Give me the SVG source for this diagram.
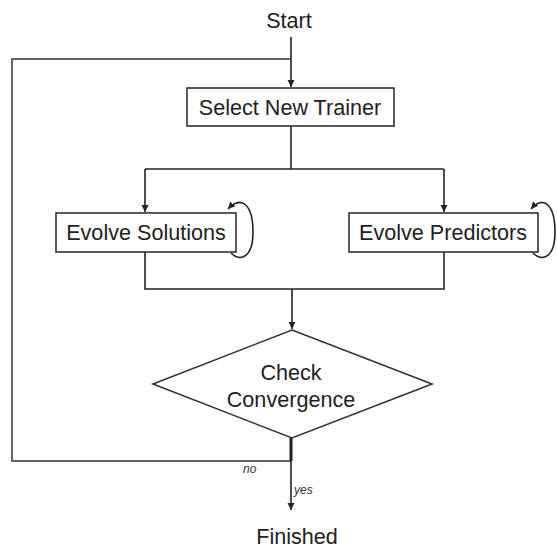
<svg xmlns="http://www.w3.org/2000/svg" width="557" height="548" viewBox="0 0 557 548">
<style>
.t{font-family:"Liberation Sans",Arial,sans-serif;font-size:21.6px;fill:#222;text-anchor:middle}
.s{font-family:"Liberation Sans",Arial,sans-serif;font-size:12px;font-style:italic;fill:#333}
.b{fill:#fff;stroke:#333;stroke-width:1.6}
.c{fill:none;stroke:#222;stroke-width:1.6}
.g{fill:none;stroke:#666;stroke-width:2}
</style>
<defs>
<marker id="a" markerWidth="8" markerHeight="8" refX="7" refY="4" orient="auto" markerUnits="userSpaceOnUse">
<path d="M0,0.5 L7,4 L0,7.5 Z" fill="#222"/>
</marker>
</defs>
<rect width="557" height="548" fill="#fff"/>
<g id="connectors">
<path class="g" d="M291 461 H12 V59 H291"/>
<path class="c" d="M291 37 V87" marker-end="url(#a)"/>
<path class="c" d="M291 126 V169"/>
<path class="c" d="M145 169 H444"/>
<path class="c" d="M145 169 V212" marker-end="url(#a)"/>
<path class="c" d="M444 169 V212" marker-end="url(#a)"/>
<path class="c" d="M145 252 V289 H444 V252"/>
<path class="c" d="M292 289 V329" marker-end="url(#a)"/>
<path d="M291 438 V461" fill="none" stroke="#222" stroke-width="3"/>
<path class="c" d="M291 461 V510" marker-end="url(#a)"/>
<path class="c" d="M231 253 C240 262,253 258,253 232 C253 204,241 195,228 209" marker-end="url(#a)"/>
<path class="c" d="M533 253 C542 262,555 258,555 232 C555 204,543 195,531 209" marker-end="url(#a)"/>
<text class="s" x="243" y="473">no</text>
<text class="s" x="294" y="494">yes</text>
</g>
<g id="start"><text class="t" x="289" y="28">Start</text></g>
<g id="select"><rect class="b" x="187" y="88" width="207" height="38"/><text class="t" x="290" y="115">Select New Trainer</text></g>
<g id="solutions"><rect class="b" x="56" y="213" width="180" height="39"/><text class="t" x="146" y="240">Evolve Solutions</text></g>
<g id="predictors"><rect class="b" x="349" y="213" width="189" height="39"/><text class="t" x="443" y="240">Evolve Predictors</text></g>
<g id="check"><polygon class="b" points="292,330 432,384 292,438 153,384"/><text class="t" x="291" y="380">Check</text><text class="t" x="291" y="407">Convergence</text></g>
<g id="finished"><text class="t" x="297" y="544">Finished</text></g>
</svg>
